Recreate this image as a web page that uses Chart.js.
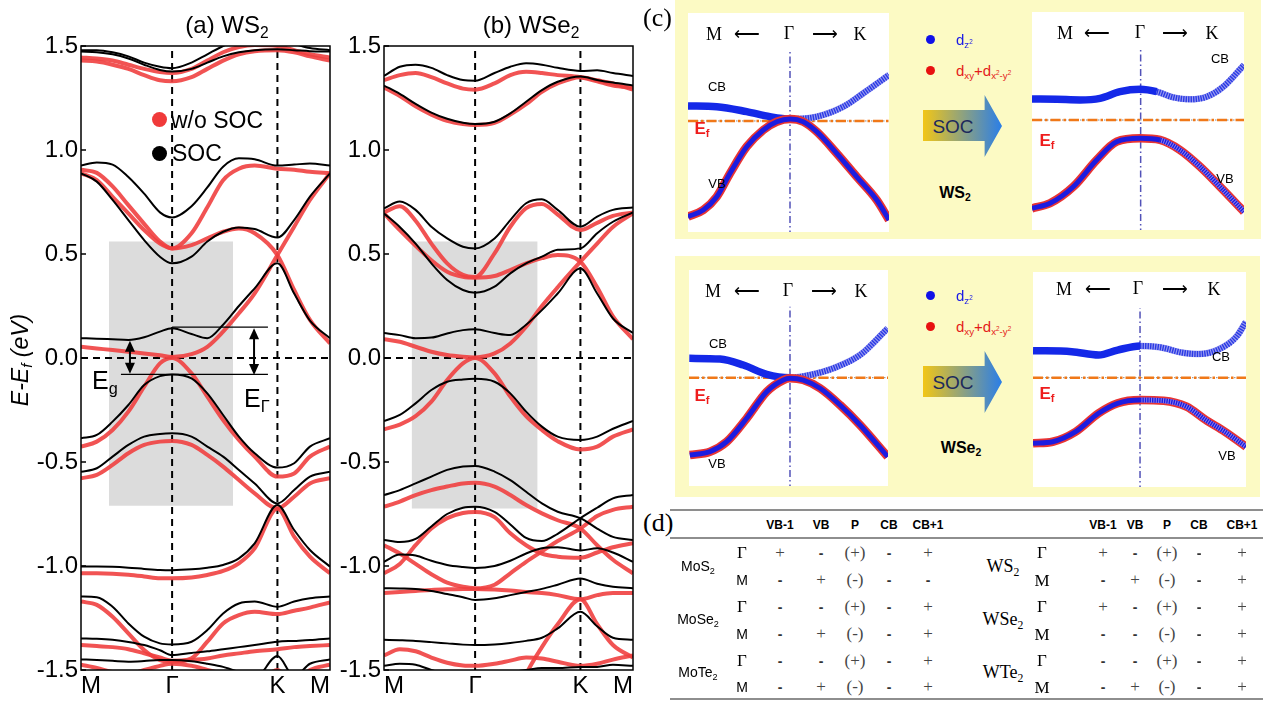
<!DOCTYPE html>
<html>
<head>
<meta charset="utf-8">
<script src="https://cdn.jsdelivr.net/npm/chart.js@4.4.1/dist/chart.umd.min.js"></script>
<style>
html,body{margin:0;padding:0;background:#fff;}
#root{position:relative;width:1270px;height:704px;overflow:hidden;font-family:"Liberation Sans",Arial,sans-serif;color:#000;}
#root canvas{position:absolute;}
.t{position:absolute;white-space:nowrap;line-height:1;}
.yellow{position:absolute;background:#fcfac4;}
.rule{position:absolute;height:2px;background:#8e8e8e;}
.dot{position:absolute;border-radius:50%;}
sub{font-size:65%;vertical-align:-0.32em;line-height:0;}
sup{font-size:65%;vertical-align:0.55em;line-height:0;}
</style>
</head>
<body>
<div id="root"></div>
<script>
// ---------------- DATA ----------------
// k-path: M -> Gamma -> K -> M
const KX = [0, 0.1, 0.2, 0.3, 0.4, 0.5, 0.577, 0.7, 0.8, 0.9, 1.0, 1.1, 1.244, 1.35, 1.45, 1.577];
const kTickPos = [0, 0.577, 1.244, 1.577];
const kTickLabels = ['M', 'Γ', 'K', 'M'];
const eTicks = [-1.5, -1.0, -0.5, 0.0, 0.5, 1.0, 1.5];

// (a) WS2, w/o SOC (red)
const ws2_red_1 = [1.43, 1.425, 1.41, 1.39, 1.36, 1.335, 1.33, 1.35, 1.39, 1.43, 1.46, 1.475, 1.48, 1.47, 1.45, 1.43];
const ws2_red_2 = [1.445, 1.44, 1.43, 1.41, 1.39, 1.375, 1.37, 1.39, 1.43, 1.47, 1.495, 1.505, 1.5, 1.48, 1.46, 1.445];
const ws2_red_3 = [0.905, 0.89, 0.825, 0.735, 0.645, 0.56, 0.527, 0.60, 0.725, 0.855, 0.91, 0.925, 0.91, 0.905, 0.895, 0.888];
const ws2_red_4 = [0.888, 0.855, 0.775, 0.695, 0.615, 0.55, 0.527, 0.543, 0.575, 0.607, 0.623, 0.6, 0.495, 0.327, 0.183, 0.07];
const ws2_red_5 = [0.054, 0.046, 0.038, 0.03, 0.022, 0.013, 0.005, 0.019, 0.054, 0.127, 0.215, 0.311, 0.495, 0.631, 0.76, 0.888];
const ws2_red_6 = [-0.426, -0.402, -0.346, -0.258, -0.138, -0.026, 0.0, -0.074, -0.186, -0.298, -0.394, -0.474, -0.57, -0.555, -0.474, -0.426];
const ws2_red_7 = [-0.578, -0.562, -0.514, -0.458, -0.418, -0.402, -0.399, -0.418, -0.466, -0.522, -0.587, -0.651, -0.723, -0.667, -0.603, -0.578];
const ws2_red_8 = [-1.035, -1.035, -1.037, -1.042, -1.05, -1.059, -1.059, -1.055, -1.043, -1.024, -0.987, -0.915, -0.723, -0.859, -0.955, -1.035];
const ws2_red_9 = [-1.171, -1.187, -1.244, -1.324, -1.404, -1.452, -1.46, -1.444, -1.364, -1.276, -1.236, -1.22, -1.231, -1.215, -1.2, -1.175];
const ws2_red_10 = [-1.38, -1.385, -1.39, -1.40, -1.42, -1.44, -1.455, -1.452, -1.445, -1.43, -1.42, -1.41, -1.40, -1.39, -1.385, -1.38];
const ws2_red_11 = [-1.475, -1.49, -1.51, -1.52, -1.5, -1.48, -1.47, -1.48, -1.5, -1.52, -1.55, -1.56, -1.5, -1.56, -1.5, -1.475];
// (a) WS2, SOC (black)
const ws2_blk_1 = [1.48, 1.48, 1.47, 1.45, 1.42, 1.40, 1.393, 1.42, 1.46, 1.50, 1.53, 1.54, 1.53, 1.51, 1.49, 1.48];
const ws2_blk_2 = [1.473, 1.47, 1.46, 1.44, 1.41, 1.385, 1.377, 1.39, 1.42, 1.45, 1.47, 1.48, 1.484, 1.48, 1.475, 1.473];
const ws2_blk_3 = [0.925, 0.94, 0.93, 0.87, 0.79, 0.70, 0.676, 0.73, 0.82, 0.92, 0.96, 0.955, 0.925, 0.93, 0.935, 0.925];
const ws2_blk_4 = [0.888, 0.848, 0.76, 0.663, 0.567, 0.487, 0.455, 0.487, 0.56, 0.607, 0.628, 0.62, 0.579, 0.663, 0.776, 0.888];
const ws2_blk_5 = [0.095, 0.093, 0.09, 0.087, 0.1, 0.127, 0.143, 0.115, 0.095, 0.16, 0.25, 0.335, 0.455, 0.31, 0.18, 0.095];
const ws2_blk_6 = [-0.386, -0.37, -0.306, -0.226, -0.13, -0.087, -0.079, -0.098, -0.17, -0.274, -0.378, -0.458, -0.527, -0.506, -0.426, -0.386];
const ws2_blk_7 = [-0.547, -0.53, -0.474, -0.418, -0.378, -0.365, -0.362, -0.378, -0.426, -0.474, -0.538, -0.603, -0.699, -0.635, -0.57, -0.547];
const ws2_blk_8 = [-1.003, -1.003, -1.004, -1.008, -1.014, -1.019, -1.02, -1.016, -1.008, -0.995, -0.963, -0.891, -0.707, -0.827, -0.923, -1.003];
const ws2_blk_9 = [-1.147, -1.15, -1.196, -1.276, -1.34, -1.372, -1.377, -1.364, -1.308, -1.228, -1.18, -1.171, -1.196, -1.171, -1.155, -1.147];
const ws2_blk_10 = [-1.348, -1.35, -1.355, -1.365, -1.38, -1.405, -1.428, -1.418, -1.41, -1.40, -1.39, -1.38, -1.364, -1.36, -1.356, -1.348];
const ws2_blk_11 = [-1.449, -1.452, -1.456, -1.46, -1.457, -1.452, -1.452, -1.458, -1.47, -1.485, -1.51, -1.54, -1.433, -1.53, -1.47, -1.449];

// (b) WSe2, w/o SOC (red)
const wse2_red_1 = [1.336, 1.36, 1.37, 1.35, 1.32, 1.295, 1.29, 1.32, 1.36, 1.376, 1.37, 1.36, 1.35, 1.33, 1.31, 1.30];
const wse2_red_2 = [1.30, 1.26, 1.21, 1.17, 1.14, 1.125, 1.12, 1.13, 1.17, 1.22, 1.28, 1.32, 1.35, 1.335, 1.32, 1.29];
const wse2_red_3 = [0.70, 0.73, 0.66, 0.55, 0.455, 0.40, 0.39, 0.503, 0.631, 0.72, 0.74, 0.69, 0.615, 0.65, 0.683, 0.70];
const wse2_red_4 = [0.695, 0.615, 0.54, 0.47, 0.415, 0.39, 0.386, 0.394, 0.423, 0.455, 0.48, 0.495, 0.463, 0.34, 0.20, 0.09];
const wse2_red_5 = [0.09, 0.078, 0.054, 0.03, 0.014, 0.006, 0.003, 0.022, 0.07, 0.15, 0.25, 0.34, 0.463, 0.55, 0.63, 0.695];
const wse2_red_6 = [-0.343, -0.32, -0.28, -0.21, -0.106, -0.026, 0.0, -0.074, -0.186, -0.28, -0.346, -0.40, -0.44, -0.426, -0.378, -0.343];
const wse2_red_7 = [-0.715, -0.69, -0.659, -0.635, -0.618, -0.603, -0.60, -0.618, -0.659, -0.707, -0.747, -0.78, -0.82, -0.90, -0.97, -1.035];
const wse2_red_8 = [-1.035, -0.99, -0.9, -0.82, -0.77, -0.745, -0.74, -0.765, -0.843, -0.90, -0.94, -0.955, -0.96, -0.935, -0.91, -0.89];
const wse2_red_9 = [-0.90, -0.94, -0.99, -1.04, -1.08, -1.10, -1.107, -1.09, -1.035, -0.98, -0.93, -0.88, -0.82, -0.76, -0.73, -0.715];
const wse2_red_10 = [-1.13, -1.125, -1.12, -1.115, -1.112, -1.11, -1.11, -1.113, -1.118, -1.125, -1.13, -1.14, -1.16, -1.14, -1.13, -1.13];
const wse2_red_11 = [-1.43, -1.40, -1.41, -1.44, -1.465, -1.478, -1.48, -1.47, -1.455, -1.44, -1.445, -1.46, -1.48, -1.47, -1.45, -1.43];
const wse2_red_12 = [-1.75, -1.75, -1.75, -1.75, -1.75, -1.75, -1.75, -1.75, -1.7, -1.52, -1.39, -1.28, -1.16, -1.28, -1.38, -1.44];
// (b) WSe2, SOC (black)
const wse2_blk_1 = [1.356, 1.40, 1.41, 1.395, 1.36, 1.336, 1.333, 1.37, 1.40, 1.417, 1.41, 1.395, 1.38, 1.383, 1.37, 1.356];
const wse2_blk_2 = [1.31, 1.27, 1.222, 1.18, 1.15, 1.131, 1.125, 1.136, 1.176, 1.232, 1.288, 1.328, 1.353, 1.337, 1.324, 1.31];
const wse2_blk_3 = [0.72, 0.752, 0.712, 0.631, 0.575, 0.535, 0.527, 0.575, 0.663, 0.744, 0.763, 0.712, 0.631, 0.68, 0.712, 0.724];
const wse2_blk_4 = [0.695, 0.63, 0.55, 0.455, 0.375, 0.327, 0.314, 0.343, 0.407, 0.455, 0.487, 0.52, 0.527, 0.60, 0.655, 0.70];
const wse2_blk_5 = [0.12, 0.11, 0.095, 0.098, 0.118, 0.134, 0.138, 0.12, 0.11, 0.16, 0.23, 0.31, 0.43, 0.31, 0.19, 0.12];
const wse2_blk_6 = [-0.303, -0.274, -0.218, -0.154, -0.114, -0.103, -0.10, -0.114, -0.17, -0.258, -0.33, -0.378, -0.394, -0.378, -0.34, -0.303];
const wse2_blk_7 = [-0.659, -0.635, -0.603, -0.57, -0.538, -0.522, -0.519, -0.546, -0.587, -0.643, -0.699, -0.739, -0.77, -0.82, -0.86, -0.875];
const wse2_blk_8 = [-0.875, -0.885, -0.87, -0.81, -0.75, -0.72, -0.715, -0.74, -0.80, -0.865, -0.88, -0.845, -0.77, -0.72, -0.675, -0.659];
const wse2_blk_9 = [-0.98, -0.945, -0.95, -0.975, -0.995, -1.005, -1.01, -1.0, -0.975, -0.94, -0.915, -0.91, -0.925, -0.915, -0.935, -0.98];
const wse2_blk_10 = [-1.107, -1.108, -1.11, -1.12, -1.135, -1.15, -1.163, -1.155, -1.14, -1.125, -1.11, -1.09, -1.06, -1.085, -1.10, -1.107];
const wse2_blk_11 = [-1.355, -1.357, -1.36, -1.366, -1.372, -1.378, -1.38, -1.377, -1.37, -1.36, -1.345, -1.30, -1.22, -1.29, -1.345, -1.355];
const wse2_blk_12 = [-1.48, -1.47, -1.475, -1.5, -1.52, -1.53, -1.53, -1.52, -1.51, -1.5, -1.49, -1.49, -1.485, -1.485, -1.475, -1.48];

// shaded boxes [k1, k2, eTop, eBottom]
const ws2_box = [0.177, 0.963, 0.56, -0.71];
const wse2_box = [0.175, 0.973, 0.56, -0.723];
// gap annotations in (a)
const gapArrows = [{k: 0.31, from: 0.083, to: -0.076}, {k: 1.096, from: 0.143, to: -0.082}];
const gapLevels = [{k1: 0.253, k2: 1.184, e: -0.079}, {k1: 0.577, k2: 1.184, e: 0.148}];

// (c) orbital-projected bands (k relative to Gamma, E relative to Ef, plot units)
const ws2_noSOC_cb_x = [-1, -0.714, -0.416, -0.184, 0.018, 0.281, 0.545, 0.744, 1.0];
const ws2_noSOC_cb_e = [0.151, 0.144, 0.099, 0.053, 0.032, 0.053, 0.144, 0.267, 0.434];
const ws2_noSOC_vb_x = [-1, -0.848, -0.714, -0.582, -0.416, -0.251, -0.117, 0.018, 0.147, 0.281, 0.480, 0.679, 0.878, 1.0];
const ws2_noSOC_vb_e = [-0.860, -0.799, -0.678, -0.464, -0.221, -0.068, 0.007, 0.032, 0.007, -0.084, -0.282, -0.496, -0.708, -0.890];
const ws2_SOC_cb_x = [-1.0, -0.767, -0.547, -0.358, -0.170, 0.019, 0.176, 0.333, 0.491, 0.648, 0.805, 1.0];
const ws2_SOC_cb_e = [0.202, 0.199, 0.193, 0.208, 0.269, 0.291, 0.269, 0.217, 0.199, 0.223, 0.315, 0.514];
const ws2_SOC_vb_x = [-1, -0.830, -0.610, -0.390, -0.201, 0.019, 0.208, 0.396, 0.585, 0.774, 1.0];
const ws2_SOC_vb_e = [-0.801, -0.755, -0.603, -0.358, -0.190, -0.159, -0.174, -0.266, -0.419, -0.603, -0.832];
const wse2_noSOC_cb_x = [-0.997, -0.688, -0.454, -0.219, 0.015, 0.216, 0.450, 0.719, 0.997];
const wse2_noSOC_cb_e = [0.182, 0.176, 0.120, 0.034, 0.003, 0.028, 0.090, 0.213, 0.460];
const wse2_noSOC_vb_x = [-0.992, -0.789, -0.621, -0.420, -0.219, -0.052, 0.015, 0.149, 0.317, 0.518, 0.719, 0.997];
const wse2_noSOC_vb_e = [-0.713, -0.682, -0.590, -0.373, -0.127, -0.019, -0.003, -0.019, -0.095, -0.250, -0.435, -0.729];
const wse2_SOC_cb_x = [-1.0, -0.636, -0.384, -0.205, 0.005, 0.192, 0.407, 0.550, 0.731, 0.910, 1.0];
const wse2_SOC_cb_e = [0.268, 0.259, 0.228, 0.274, 0.312, 0.300, 0.249, 0.237, 0.274, 0.398, 0.538];
const wse2_SOC_vb_x = [-1.0, -0.815, -0.599, -0.384, -0.205, 0.005, 0.227, 0.442, 0.623, 0.802, 1.0];
const wse2_SOC_vb_e = [-0.593, -0.579, -0.486, -0.314, -0.221, -0.191, -0.197, -0.253, -0.377, -0.486, -0.625];

// (d) parity table
const tableHeader = ['VB-1', 'VB', 'P', 'CB', 'CB+1'];
const MoS2_G = ['+', '-', '(+)', '-', '+'];
const MoS2_M = ['-', '+', '(-)', '-', '-'];
const MoSe2_G = ['-', '-', '(+)', '-', '+'];
const MoSe2_M = ['-', '+', '(-)', '-', '+'];
const MoTe2_G = ['-', '-', '(+)', '-', '+'];
const MoTe2_M = ['-', '+', '(-)', '-', '+'];
const WS2_G = ['+', '-', '(+)', '-', '+'];
const WS2_M = ['-', '+', '(-)', '-', '+'];
const WSe2_G = ['+', '-', '(+)', '-', '+'];
const WSe2_M = ['-', '-', '(-)', '-', '+'];
const WTe2_G = ['-', '-', '(+)', '-', '+'];
const WTe2_M = ['-', '+', '(-)', '-', '+'];

// ---------------- RENDER ----------------
const root = document.getElementById('root');
const FONT = '"Liberation Sans", Arial, sans-serif';
const SERIF = '"Liberation Serif", "Times New Roman", serif';

function T(html, x, y, css, anchor) {
  const d = document.createElement('div');
  d.className = 't';
  d.innerHTML = html;
  d.style.left = x + 'px';
  d.style.top = y + 'px';
  const tx = anchor === 'l' ? '0' : (anchor === 'r' ? '-100%' : '-50%');
  d.style.transform = 'translate(' + tx + ',-50%)';
  if (css) d.style.cssText += css;
  root.appendChild(d);
  return d;
}
function box(cls, x, y, w, h, css) {
  const d = document.createElement('div');
  d.className = cls;
  d.style.left = x + 'px'; d.style.top = y + 'px';
  d.style.width = w + 'px'; d.style.height = h + 'px';
  if (css) d.style.cssText += css;
  root.appendChild(d);
  return d;
}
function pts(xs, ys) { return xs.map((x, i) => ({x: x, y: ys[i]})); }

const framePlugin = {
  id: 'frame',
  afterDatasetsDraw(chart) {
    const {ctx, chartArea: a} = chart;
    const y = chart.scales.y;
    ctx.save();
    ctx.strokeStyle = '#000';
    ctx.lineWidth = 1.5;
    ctx.strokeRect(a.left, a.top, a.right - a.left, a.bottom - a.top);
    eTicks.forEach(v => {
      const py = y.getPixelForValue(v);
      ctx.beginPath(); ctx.moveTo(a.left, py); ctx.lineTo(a.left + 5, py); ctx.stroke();
    });
    ctx.restore();
  }
};

const gapPlugin = {
  id: 'gaps',
  afterDatasetsDraw(chart) {
    const {ctx} = chart;
    const xs = chart.scales.x, ys = chart.scales.y;
    ctx.save();
    ctx.strokeStyle = '#000'; ctx.fillStyle = '#000';
    ctx.lineWidth = 1.3;
    gapLevels.forEach(l => {
      const py = ys.getPixelForValue(l.e);
      ctx.beginPath(); ctx.moveTo(xs.getPixelForValue(l.k1), py); ctx.lineTo(xs.getPixelForValue(l.k2), py); ctx.stroke();
    });
    gapArrows.forEach(a => {
      const px = xs.getPixelForValue(a.k);
      const p1 = ys.getPixelForValue(a.from), p2 = ys.getPixelForValue(a.to);
      ctx.lineWidth = 2;
      ctx.beginPath(); ctx.moveTo(px, p1 + 8); ctx.lineTo(px, p2 - 8); ctx.stroke();
      ctx.beginPath(); ctx.moveTo(px, p1); ctx.lineTo(px - 5, p1 + 11); ctx.lineTo(px + 5, p1 + 11); ctx.closePath(); ctx.fill();
      ctx.beginPath(); ctx.moveTo(px, p2); ctx.lineTo(px - 5, p2 - 11); ctx.lineTo(px + 5, p2 - 11); ctx.closePath(); ctx.fill();
    });
    ctx.restore();
  }
};

function bandPanel(o) {
  const cv = document.createElement('canvas');
  cv.width = o.w; cv.height = 704;
  cv.style.left = o.left + 'px'; cv.style.top = '0px';
  root.appendChild(cv);
  const ds = [];
  ds.push({data: [{x: o.box[0], y: o.box[2]}, {x: o.box[1], y: o.box[2]}], fill: {value: o.box[3]},
    backgroundColor: '#dcdcdc', borderWidth: 0, pointRadius: 0, order: 100});
  [kTickPos[1], kTickPos[2]].forEach(k => ds.push({data: [{x: k, y: -1.5}, {x: k, y: 1.5}],
    borderColor: '#000', borderWidth: 2, borderDash: [7, 5], pointRadius: 0, fill: false, order: 90}));
  ds.push({data: [{x: kTickPos[0], y: 0}, {x: kTickPos[3], y: 0}], borderColor: '#000', borderWidth: 2,
    borderDash: [7, 5], pointRadius: 0, fill: false, order: 90});
  o.red.forEach(b => ds.push({data: pts(KX, b), borderColor: 'rgba(240,64,64,0.9)', borderWidth: 4,
    pointRadius: 0, fill: false, cubicInterpolationMode: 'monotone', order: 50}));
  o.blk.forEach(b => ds.push({data: pts(KX, b), borderColor: '#000', borderWidth: 2,
    pointRadius: 0, fill: false, cubicInterpolationMode: 'monotone', order: 10}));
  new Chart(cv, {
    type: 'line',
    data: {datasets: ds},
    options: {
      responsive: false, animation: false, devicePixelRatio: 1, events: [],
      layout: {padding: {top: 46, right: o.padR, left: 0, bottom: 0}},
      plugins: {legend: {display: false}, tooltip: {enabled: false}},
      scales: {
        x: {type: 'linear', min: kTickPos[0], max: kTickPos[3],
          afterBuildTicks: a => { a.ticks = kTickPos.map(v => ({value: v})); },
          afterFit: s => { s.height = 34; },
          grid: {display: false, drawTicks: false}, border: {display: false},
          ticks: {autoSkip: false, maxRotation: 0, align: 'inner', padding: 2, color: '#000',
            font: {family: FONT, size: 24}, callback: (v, i) => kTickLabels[i]}},
        y: {type: 'linear', min: eTicks[0], max: eTicks[eTicks.length - 1],
          afterBuildTicks: a => { a.ticks = eTicks.map(v => ({value: v})); },
          afterFit: s => { s.width = o.axisW; },
          grid: {display: false, drawTicks: false}, border: {display: false},
          ticks: {padding: 3, color: '#000', font: {family: FONT, size: 24}, callback: v => v.toFixed(1)}}
      }
    },
    plugins: [framePlugin].concat(o.plugins || [])
  });
}

// ---- panel (c) backgrounds ----
box('yellow', 675, 0, 586, 239);
box('yellow', 675, 256, 585, 241);

// ---- panel (a) & (b) ----
bandPanel({left: 0, w: 340, axisW: 81, padR: 10, box: ws2_box,
  red: [ws2_red_1, ws2_red_2, ws2_red_3, ws2_red_4, ws2_red_5, ws2_red_6, ws2_red_7, ws2_red_8, ws2_red_9, ws2_red_10, ws2_red_11],
  blk: [ws2_blk_1, ws2_blk_2, ws2_blk_3, ws2_blk_4, ws2_blk_5, ws2_blk_6, ws2_blk_7, ws2_blk_8, ws2_blk_9, ws2_blk_10, ws2_blk_11],
  plugins: [gapPlugin]});
bandPanel({left: 330, w: 310, axisW: 54, padR: 7, box: wse2_box,
  red: [wse2_red_1, wse2_red_2, wse2_red_3, wse2_red_4, wse2_red_5, wse2_red_6, wse2_red_7, wse2_red_8, wse2_red_9, wse2_red_10, wse2_red_11, wse2_red_12],
  blk: [wse2_blk_1, wse2_blk_2, wse2_blk_3, wse2_blk_4, wse2_blk_5, wse2_blk_6, wse2_blk_7, wse2_blk_8, wse2_blk_9, wse2_blk_10, wse2_blk_11, wse2_blk_12]});

T('(a) WS<sub>2</sub>', 227, 25, 'font-size:24px;');
T('(b) WSe<sub>2</sub>', 531, 25, 'font-size:24px;');
T('E-E<sub>f</sub> (eV)', 20, 360, 'font-size:23px;font-style:italic;transform:translate(-50%,-50%) rotate(-90deg);');
box('dot', 151.5, 111.5, 15, 15, 'background:#f03a3a;');
box('dot', 151.5, 145.5, 15, 15, 'background:#000;');
T('w/o SOC', 171, 120, 'font-size:23px;', 'l');
T('SOC', 172, 153, 'font-size:23px;', 'l');
T('E<sub>g</sub>', 92, 380, 'font-size:25px;', 'l');
T('E<sub>Γ</sub>', 244, 398, 'font-size:25px;', 'l');

// ---- panel (c) small plots ----
function smallPlot(g, cbx, cbe, vbx, vbe, hatchVB) {
  const cv = document.createElement('canvas');
  cv.width = g.w; cv.height = g.h;
  cv.style.left = g.left + 'px'; cv.style.top = g.top + 'px'; cv.style.background = '#fff';
  root.appendChild(cv);
  const right = c => c.p0.parsed.x >= g.gx - 1e-6;
  const none = 'rgba(0,0,0,0)';
  const ds = [
    {data: [{x: g.gx, y: -1.05}, {x: g.gx, y: g.gTop}], borderColor: '#5252b8', borderWidth: 1.5, borderDash: [7, 3, 1.5, 3], pointRadius: 0, order: 80},
    {data: [{x: -1, y: g.ef}, {x: 1, y: g.ef}], borderColor: '#8a8a8a', borderWidth: 1, borderDash: [1.5, 1.5], pointRadius: 0, order: 70},
    {data: [{x: -1, y: g.ef}, {x: 1, y: g.ef}], borderColor: '#f07818', borderWidth: 2.5, borderDash: [10, 3, 2.5, 3], pointRadius: 0, order: 60},
    {data: pts(cbx, cbe), borderWidth: 6.5, pointRadius: 0, cubicInterpolationMode: 'monotone', order: 40,
      borderColor: '#9a9cf0', segment: {borderColor: c => right(c) ? '#9a9cf0' : none}},
    {data: pts(cbx, cbe), borderWidth: 6, pointRadius: 0, cubicInterpolationMode: 'monotone', order: 30,
      borderColor: '#1428e8', segment: {borderDash: c => right(c) ? [1.4, 1.1] : undefined,
        borderWidth: c => right(c) ? 6 : 7.5, borderColor: c => right(c) ? '#2a3ae4' : '#1428e8'}},
    {data: pts(vbx, vbe), borderWidth: 8.5, pointRadius: 0, cubicInterpolationMode: 'monotone', order: 22, borderColor: '#e83434'},
    {data: pts(vbx, vbe), borderWidth: 5, pointRadius: 0, cubicInterpolationMode: 'monotone', order: 15,
      borderColor: '#8a80ee', segment: {borderColor: c => (hatchVB && right(c)) ? '#8a80ee' : none}},
    {data: pts(vbx, vbe), borderWidth: 5, pointRadius: 0, cubicInterpolationMode: 'monotone', order: 10,
      borderColor: '#1c1ce0', segment: {borderDash: c => (hatchVB && right(c)) ? [1.4, 1.0] : undefined}}
  ];
  new Chart(cv, {
    type: 'line', data: {datasets: ds},
    options: {
      responsive: false, animation: false, devicePixelRatio: 1, events: [],
      layout: {padding: 0},
      plugins: {legend: {display: false}, tooltip: {enabled: false}},
      scales: {x: {type: 'linear', min: -1, max: 1, display: false}, y: {type: 'linear', min: -1, max: 1, display: false}}
    }
  });
}
const plotTL = {left: 688, top: 13, w: 201, h: 219, gx: 0.015, ef: 0.014, gTop: 0.644};
const plotTR = {left: 1032, top: 12, w: 212, h: 218, gx: 0.025, ef: 0.009, gTop: 0.67};
const plotBL = {left: 689, top: 270, w: 199, h: 216, gx: 0.015, ef: 0.003, gTop: 0.66};
const plotBR = {left: 1033, top: 272, w: 213, h: 215, gx: 0.005, ef: 0.017, gTop: 0.665};
smallPlot(plotTL, ws2_noSOC_cb_x, ws2_noSOC_cb_e, ws2_noSOC_vb_x, ws2_noSOC_vb_e, false);
smallPlot(plotTR, ws2_SOC_cb_x, ws2_SOC_cb_e, ws2_SOC_vb_x, ws2_SOC_vb_e, true);
smallPlot(plotBL, wse2_noSOC_cb_x, wse2_noSOC_cb_e, wse2_noSOC_vb_x, wse2_noSOC_vb_e, false);
smallPlot(plotBR, wse2_SOC_cb_x, wse2_SOC_cb_e, wse2_SOC_vb_x, wse2_SOC_vb_e, true);

function kLabels(xs, y) {
  const s = 'font-family:' + SERIF + ';font-size:18px;';
  T('M', xs[0], y, s); T('⟵', xs[1], y, s); T('Γ', xs[2], y - 1, s); T('⟶', xs[3], y, s); T('K', xs[4], y, s);
}
kLabels([714, 747, 789, 825, 860], 34);
kLabels([1065, 1097, 1140, 1175, 1212], 33);
kLabels([713, 747, 788, 824, 861], 291);
kLabels([1064, 1098, 1138, 1175, 1214], 289);
const smallTxt = 'font-size:13px;';
const efTxt = 'font-size:17px;font-weight:bold;color:#ee1c1c;';
T('CB', 717, 86, smallTxt); T('E<sub>f</sub>', 702, 128, efTxt); T('VB', 717, 183, smallTxt);
T('CB', 1220, 58, smallTxt); T('E<sub>f</sub>', 1047, 140, efTxt); T('VB', 1225, 178, smallTxt);
T('CB', 718, 343, smallTxt); T('E<sub>f</sub>', 702, 395, efTxt); T('VB', 717, 463, smallTxt);
T('CB', 1221, 356, smallTxt); T('E<sub>f</sub>', 1047, 393, efTxt); T('VB', 1227, 455, smallTxt);

function legendC(y1, y2) {
  box('dot', 925.5, y1 - 4.5, 9, 9, 'background:#1010e8;');
  box('dot', 925.5, y2 - 4.5, 9, 9, 'background:#e81010;');
  T('d<sub>z<sup>2</sup></sub>', 956, y1, 'font-size:15px;color:#1a1ae6;', 'l');
  T('d<sub>xy</sub>+d<sub>x<sup>2</sup>-y<sup>2</sup></sub>', 956, y2, 'font-size:15px;color:#e41a1a;', 'l');
}
legendC(39, 70);
legendC(295, 326);
function socArrow(top) {
  box('t', 923, top, 79, 62, 'background:linear-gradient(to right,#f2c616,#2a7ee8);clip-path:polygon(0 24%,78% 24%,78% 0,100% 50%,78% 100%,78% 74%,0 74%);');
  T('SOC', 953, top + 31, 'font-size:19px;color:#1c2a5c;');
}
socArrow(95);
socArrow(351);
T('WS<sub>2</sub>', 955, 193, 'font-size:16px;font-weight:bold;');
T('WSe<sub>2</sub>', 961, 448, 'font-size:16px;font-weight:bold;');
T('(c)', 643, 18, 'font-family:' + SERIF + ';font-size:26px;', 'l');

// ---- panel (d) table ----
T('(d)', 643, 523, 'font-family:' + SERIF + ';font-size:26px;', 'l');
box('rule', 670, 509, 593, 2);
box('rule', 670, 537, 593, 2);
box('rule', 670, 698, 593, 2);
const colL = [780, 821, 855, 889, 928];
const colR = [1103, 1135, 1167, 1199, 1242];
const rowG = [553, 607, 661];
const rowM = [580, 634, 687];
const rowLbl = [566, 619, 672];
tableHeader.forEach((h, i) => {
  T(h, colL[i], 525, 'font-size:12px;font-weight:bold;');
  T(h, colR[i], 525, 'font-size:12px;font-weight:bold;');
});
function cell(v, x, y) {
  if (v === '-') T('-', x, y, 'font-size:14px;font-weight:bold;color:#333;');
  else T(v, x, y - 1, 'font-family:' + SERIF + ';font-size:17px;color:#444;opacity:0.99;');
}
const leftRows = [['MoS<sub>2</sub>', MoS2_G, MoS2_M], ['MoSe<sub>2</sub>', MoSe2_G, MoSe2_M], ['MoTe<sub>2</sub>', MoTe2_G, MoTe2_M]];
const rightRows = [['WS<sub>2</sub>', WS2_G, WS2_M], ['WSe<sub>2</sub>', WSe2_G, WSe2_M], ['WTe<sub>2</sub>', WTe2_G, WTe2_M]];
leftRows.forEach((r, i) => {
  T(r[0], 698, rowLbl[i], 'font-size:14px;');
  T('Γ', 742, rowG[i] - 1, 'font-family:' + SERIF + ';font-size:17px;');
  T('M', 742, rowM[i], 'font-size:14px;');
  r[1].forEach((v, j) => cell(v, colL[j], rowG[i]));
  r[2].forEach((v, j) => cell(v, colL[j], rowM[i]));
});
rightRows.forEach((r, i) => {
  T(r[0], 1003, rowLbl[i], 'font-family:' + SERIF + ';font-size:18px;');
  T('Γ', 1042, rowG[i] - 1, 'font-family:' + SERIF + ';font-size:17px;');
  T('M', 1042, rowM[i], 'font-family:' + SERIF + ';font-size:17px;');
  r[1].forEach((v, j) => cell(v, colR[j], rowG[i]));
  r[2].forEach((v, j) => cell(v, colR[j], rowM[i]));
});
</script>
</body>
</html>
